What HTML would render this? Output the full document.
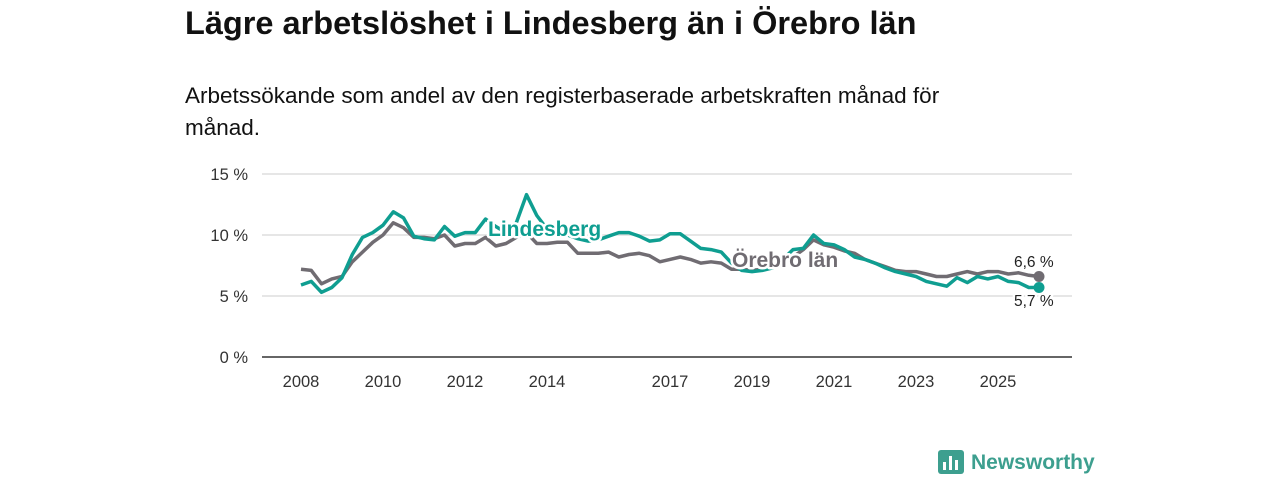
<!DOCTYPE html>
<html><head><meta charset="utf-8"><style>
body{margin:0;background:#fff;width:1280px;height:480px;overflow:hidden;font-family:"Liberation Sans",sans-serif;color:#111}
#t{position:absolute;left:185px;top:5px;font-size:32.5px;font-weight:bold;margin:0}
#s{position:absolute;left:185px;top:80px;font-size:22.5px;line-height:32px;width:830px;margin:0}
svg{position:absolute;left:0;top:0}
</style></head><body>
<h1 id="t">Lägre arbetslöshet i Lindesberg än i Örebro län</h1>
<p id="s">Arbetssökande som andel av den registerbaserade arbetskraften månad för månad.</p>
<svg id="c" width="1280" height="480"></svg>
<script>
const startYear=2008, step=0.25;
const lindesberg=[5.9,6.2,5.3,5.7,6.5,8.4,9.8,10.2,10.8,11.9,11.4,9.9,9.7,9.6,10.7,9.9,10.2,10.2,11.3,10.7,10.2,11.0,13.3,11.6,10.5,10.2,10.0,9.7,9.5,9.6,9.9,10.2,10.2,9.9,9.5,9.6,10.1,10.1,9.5,8.9,8.8,8.6,7.7,7.1,7.0,7.1,7.3,8.0,8.8,8.9,10.0,9.3,9.2,8.8,8.2,8.0,7.7,7.3,7.0,6.8,6.6,6.2,6.0,5.8,6.5,6.1,6.6,6.4,6.6,6.2,6.1,5.7,5.7];
const orebro=[7.2,7.1,6.0,6.4,6.6,7.8,8.6,9.4,10.0,11.0,10.6,9.8,9.8,9.7,10.0,9.1,9.3,9.3,9.8,9.1,9.3,9.8,10.2,9.3,9.3,9.4,9.4,8.5,8.5,8.5,8.6,8.2,8.4,8.5,8.3,7.8,8.0,8.2,8.0,7.7,7.8,7.7,7.2,7.2,7.1,7.2,7.6,7.8,8.2,8.8,9.6,9.2,9.0,8.7,8.5,8.0,7.7,7.4,7.1,7.0,7.0,6.8,6.6,6.6,6.8,7.0,6.8,7.0,7.0,6.8,6.9,6.7,6.6];
const yTicks=[0,5,10,15];
const xTicks=[2008,2010,2012,2014,2017,2019,2021,2023,2025];
const X=v=>301+(v-2008)*41, Y=v=>357-v*12.2;
const svg=document.getElementById('c'),NS='http://www.w3.org/2000/svg';
function mk(t,a,p){const e=document.createElementNS(NS,t);for(const k in a)e.setAttribute(k,a[k]);(p||svg).appendChild(e);return e;}
yTicks.forEach(v=>{
 const l=mk('line',{x1:262,x2:1072,y1:Y(v),y2:Y(v),stroke:v?'#d8d8d8':'#333','stroke-width':v?1.2:1.5});
 
 
 const t=mk('text',{x:248,y:Y(v)+6,'text-anchor':'end','font-size':16.5,fill:'#333'});t.textContent=v+' %';
 
 
});
xTicks.forEach(v=>{
 const t=mk('text',{x:X(v),y:387,'text-anchor':'middle','font-size':16.5,fill:'#333'});t.textContent=v;
 
 
});
function line(d,col,name){
 const p=d.map((v,i)=>(i?'L':'M')+X(startYear+i*step).toFixed(1)+','+Y(v).toFixed(1)).join('');
 const e=mk('path',{d:p,fill:'none',stroke:col,'stroke-width':3.5,'stroke-linejoin':'round'});
 
 
}
line(orebro,'#706c72','series-orebro-lan');
line(lindesberg,'#0f9e91','series-lindesberg');
const lx=X(startYear+(orebro.length-1)*step);
const d1=mk('circle',{cx:lx,cy:Y(orebro[orebro.length-1]),r:5.5,fill:'#706c72'});


const d2=mk('circle',{cx:lx,cy:Y(lindesberg[lindesberg.length-1]),r:5.5,fill:'#0f9e91'});


function lab(x,y,txt,col,fs,w,name){
 const t=mk('text',{x:x,y:y,'font-size':fs,'font-weight':w,fill:col,stroke:'#fff','stroke-width':5,'paint-order':'stroke','stroke-linejoin':'round'});t.textContent=txt;
 
 
}
lab(488,236,'Lindesberg','#0f9e91',21,'bold','lindesberg-label');
lab(732,267,'Örebro län','#706c72',21,'bold','orebro-label');
lab(1014,267,'6,6 %','#222',15.5,'normal','orebro-end-value');
lab(1014,306,'5,7 %','#222',15.5,'normal','lindesberg-end-value');
const g=mk('g',{});

mk('rect',{x:938,y:450,width:26,height:24,rx:3,fill:'#3d9f8f'},g);
mk('rect',{x:943,y:462,width:3,height:8,fill:'#fff'},g);
mk('rect',{x:949,y:456,width:3,height:14,fill:'#fff'},g);
mk('rect',{x:955,y:460,width:3,height:10,fill:'#fff'},g);
const nt=mk('text',{x:971,y:469,'font-size':21,'font-weight':'bold',fill:'#3d9f8f'},g);nt.textContent='Newsworthy';
</script>
</body></html>
